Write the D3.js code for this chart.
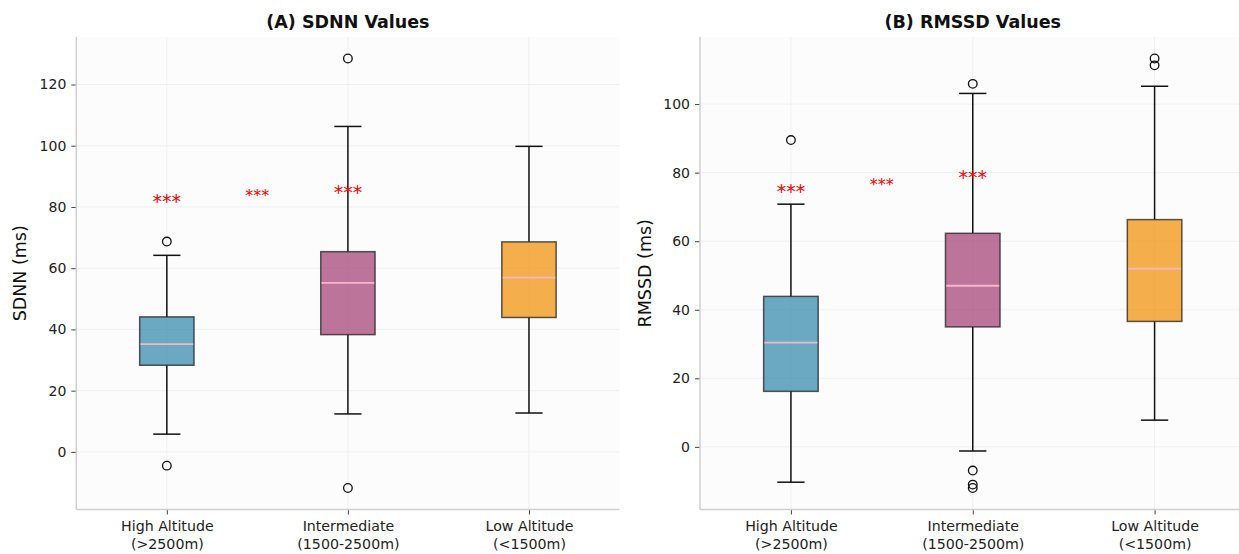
<!DOCTYPE html>
<html>
<head>
<meta charset="utf-8">
<script src="https://cdn.jsdelivr.net/npm/d3@7"></script>
<style>
  body { margin: 0; background: #ffffff; }
  svg { display: block; font-family: "DejaVu Sans", sans-serif; }
</style>
</head>
<body>
<svg id="chart" width="1239" height="554"></svg>
<script>
// ---------- data ----------
const categories = ["High Altitude\n(>2500m)", "Intermediate\n(1500-2500m)", "Low Altitude\n(<1500m)"];
const boxColors = ["#2E86AB", "#A23B72", "#F18F01"];

// Panel A: SDNN
const sdnnWhiskerLow  = [5.8, 12.4, 12.7];
const sdnnQ1          = [28.3, 38.3, 43.9];
const sdnnMedian      = [35.2, 55.2, 56.9];
const sdnnQ3          = [44.1, 65.4, 68.6];
const sdnnWhiskerHigh = [64.2, 106.3, 99.8];
const sdnnOutliers    = [[68.7, -4.5], [128.5, -11.8], []];
const sdnnSigPos      = [1, 1.5, 2];
const sdnnSigY        = [83.1, 84.9, 86.1];
const sdnnSigText     = ["***", "***", "***"];

// Panel B: RMSSD
const rmssdWhiskerLow  = [-10.3, -1.2, 7.8];
const rmssdQ1          = [16.2, 35.0, 36.6];
const rmssdMedian      = [30.4, 47.0, 52.0];
const rmssdQ3          = [43.9, 62.3, 66.3];
const rmssdWhiskerHigh = [70.8, 103.1, 105.2];
const rmssdOutliers    = [[89.5], [105.9, -6.9, -11.0, -12.0], [113.3, 111.3]];
const rmssdSigPos      = [1, 1.5, 2];
const rmssdSigY        = [75.8, 77.6, 79.9];
const rmssdSigText     = ["***", "***", "***"];

const yTicksA = [0, 20, 40, 60, 80, 100, 120];
const yTicksB = [0, 20, 40, 60, 80, 100];

// ---------- drawing ----------
const svg = d3.select("#chart");

function panel(cfg) {
  const g = svg.append("g");
  const positions = categories.map((c, i) => i + 1);
  const allVals = [].concat(cfg.wl, cfg.wh, ...cfg.out);
  const mn = d3.min(allVals), mx = d3.max(allVals);
  const pad = (mx - mn) * 0.05;
  const x = d3.scaleLinear().domain([0.5, 3.5]).range([cfg.left, cfg.right]);
  const y = d3.scaleLinear().domain([mn - pad, mx + pad]).range([cfg.bottom, cfg.top]);
  const clipId = "clip" + cfg.id;
  svg.append("clipPath").attr("id", clipId).append("rect")
    .attr("x", cfg.left).attr("y", cfg.top)
    .attr("width", cfg.right - cfg.left).attr("height", cfg.bottom - cfg.top);

  // background
  g.append("rect").attr("x", cfg.left).attr("y", cfg.top)
    .attr("width", cfg.right - cfg.left).attr("height", cfg.bottom - cfg.top)
    .attr("fill", "#fcfcfc");

  // grid
  const grid = g.append("g").attr("clip-path", `url(#${clipId})`);
  grid.selectAll(".hg").data(cfg.yTicks).enter().append("line")
    .attr("x1", cfg.left).attr("x2", cfg.right)
    .attr("y1", d => y(d)).attr("y2", d => y(d))
    .attr("stroke", "#ececec").attr("stroke-width", 0.8);
  grid.selectAll(".vg").data(positions).enter().append("line")
    .attr("x1", d => x(d)).attr("x2", d => x(d))
    .attr("y1", cfg.top).attr("y2", cfg.bottom)
    .attr("stroke", "#ececec").attr("stroke-width", 0.8);

  // axes
  const yAxis = d3.axisLeft(y).tickValues(cfg.yTicks).tickSize(5).tickPadding(5).tickFormat(d3.format("d"));
  const ya = g.append("g").attr("transform", `translate(${cfg.left},0)`).call(yAxis);
  ya.select(".domain").remove();
  ya.selectAll(".tick line").attr("stroke", "#444").attr("stroke-width", 1);
  ya.selectAll(".tick text").attr("font-size", 14).attr("fill", "#222")
    .attr("font-family", "DejaVu Sans");

  const xAxis = d3.axisBottom(x).tickValues(positions).tickSize(5).tickFormat(() => "");
  const xa = g.append("g").attr("transform", `translate(0,${cfg.bottom})`).call(xAxis);
  xa.select(".domain").remove();
  xa.selectAll(".tick line").attr("stroke", "#444").attr("stroke-width", 1);
  xa.selectAll(".tick").each(function(d, i) {
    const lines = categories[i].split("\n");
    const t = d3.select(this).append("text").attr("fill", "#222")
      .attr("font-size", 14.2).attr("text-anchor", "middle").attr("font-family", "DejaVu Sans");
    lines.forEach((ln, k) => t.append("tspan").attr("x", 0).attr("y", 21.5 + k * 18).text(ln));
  });

  // spines
  g.append("line").attr("x1", cfg.left).attr("x2", cfg.left).attr("y1", cfg.top).attr("y2", cfg.bottom)
    .attr("stroke", "#cfcfcf").attr("stroke-width", 1.5);
  g.append("line").attr("x1", cfg.left).attr("x2", cfg.right).attr("y1", cfg.bottom).attr("y2", cfg.bottom)
    .attr("stroke", "#cfcfcf").attr("stroke-width", 1.5);

  // boxes
  const bw = (x(2) - x(1)) * 0.3;
  const boxes = g.append("g");
  positions.forEach((p, i) => {
    const cx = x(p);
    const bg = boxes.append("g");
    // whiskers
    bg.append("line").attr("x1", cx).attr("x2", cx).attr("y1", y(cfg.q3[i])).attr("y2", y(cfg.wh[i]))
      .attr("stroke", "#111").attr("stroke-width", 1.5);
    bg.append("line").attr("x1", cx).attr("x2", cx).attr("y1", y(cfg.q1[i])).attr("y2", y(cfg.wl[i]))
      .attr("stroke", "#111").attr("stroke-width", 1.5);
    // caps
    [cfg.wh[i], cfg.wl[i]].forEach(v => {
      bg.append("line").attr("x1", cx - bw / 4).attr("x2", cx + bw / 4).attr("y1", y(v)).attr("y2", y(v))
        .attr("stroke", "#111").attr("stroke-width", 1.5);
    });
    // box
    bg.append("rect").attr("x", cx - bw / 2).attr("width", bw)
      .attr("y", y(cfg.q3[i])).attr("height", y(cfg.q1[i]) - y(cfg.q3[i]))
      .attr("fill", boxColors[i]).attr("fill-opacity", 0.7)
      .attr("stroke", "#222").attr("stroke-opacity", 0.75).attr("stroke-width", 1.5);
    // median
    bg.append("line").attr("x1", cx - bw / 2 + 0.75).attr("x2", cx + bw / 2 - 0.75)
      .attr("y1", y(cfg.med[i])).attr("y2", y(cfg.med[i]))
      .attr("stroke", "#f7b6c8").attr("stroke-width", 1.8);
    // outliers
    bg.selectAll(".fl").data(cfg.out[i]).enter().append("circle")
      .attr("cx", cx).attr("cy", d => y(d)).attr("r", 4.3)
      .attr("fill", "none").attr("stroke", "#111").attr("stroke-width", 1.3);
  });

  // significance markers
  cfg.sigPos.forEach((p, i) => {
    const fs = (p % 1 === 0) ? 19 : 16;
    g.append("text").attr("x", x(p)).attr("y", y(cfg.sigY[i]) + fs * 0.57)
      .attr("text-anchor", "middle").attr("font-size", fs).attr("fill", "red")
      .attr("font-family", "DejaVu Sans").text(cfg.sigText[i]);
  });

  // title
  g.append("text").attr("x", (cfg.left + cfg.right) / 2).attr("y", 28)
    .attr("text-anchor", "middle").attr("font-size", 17.5).attr("font-weight", "bold")
    .attr("fill", "#111").attr("font-family", "DejaVu Sans").text(cfg.title);

  // y label
  g.append("text").attr("transform", `translate(${cfg.ylabelX},${(cfg.top + cfg.bottom) / 2}) rotate(-90)`)
    .attr("text-anchor", "middle").attr("dominant-baseline", "central")
    .attr("font-size", 17.5).attr("fill", "#111").attr("font-family", "DejaVu Sans").text(cfg.ylabel);
}

panel({
  id: "A", left: 76.3, right: 619.5, top: 37, bottom: 509.5, ylabelX: 20,
  wl: sdnnWhiskerLow, q1: sdnnQ1, med: sdnnMedian, q3: sdnnQ3, wh: sdnnWhiskerHigh, out: sdnnOutliers,
  sigPos: sdnnSigPos, sigY: sdnnSigY, sigText: sdnnSigText,
  yTicks: yTicksA, title: "(A) SDNN Values", ylabel: "SDNN (ms)"
});
panel({
  id: "B", left: 700, right: 1245.5, top: 37, bottom: 509.5, ylabelX: 645,
  wl: rmssdWhiskerLow, q1: rmssdQ1, med: rmssdMedian, q3: rmssdQ3, wh: rmssdWhiskerHigh, out: rmssdOutliers,
  sigPos: rmssdSigPos, sigY: rmssdSigY, sigText: rmssdSigText,
  yTicks: yTicksB, title: "(B) RMSSD Values", ylabel: "RMSSD (ms)"
});
</script>
</body>
</html>
